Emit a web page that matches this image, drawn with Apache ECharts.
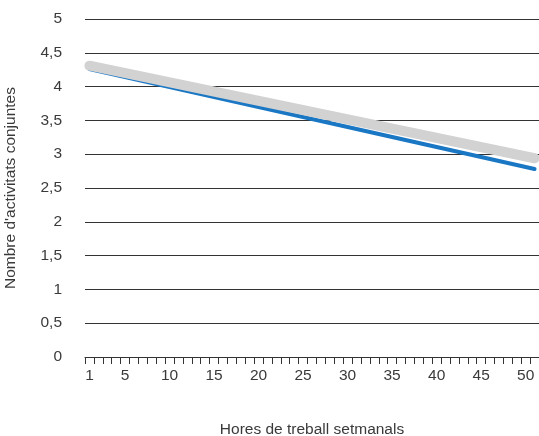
<!DOCTYPE html>
<html><head><meta charset="utf-8">
<script src="https://cdn.jsdelivr.net/npm/echarts@6/dist/echarts.min.js"></script>
<style>html,body{margin:0;padding:0;background:#fff}#c{width:539px;height:436px}</style>
</head><body><div id="c"></div>
<script>
var hours = []; for (var h = 1; h <= 51; h++) hours.push(String(h));
var labelHours = ['1','5','10','15','20','25','30','35','40','45','50'];
var blueStart = 4.26, blueEnd = 2.78;
var grayStart = 4.31, grayEnd = 2.94;
function ends(a, b){ var d = hours.map(function(){return null;}); d[0]=a; d[d.length-1]=b; return d; }
var chart = echarts.init(document.getElementById('c'));
var font = 'Liberation Sans, Arial, sans-serif';
var txt = '#3a3a3a';
chart.setOption({
  animation: false,
  grid: {left: 85, right: 0, top: 19, bottom: 79, containLabel: false, outerBoundsMode: 'none'},
  xAxis: {
    type: 'category', data: hours, boundaryGap: true,
    name: 'Hores de treball setmanals', nameLocation: 'middle', nameGap: 65,
    nameTextStyle: {color: txt, fontSize: 15.5, fontFamily: font},
    axisLine: {show: true, lineStyle: {color: '#333', width: 1}},
    axisTick: {show: true, interval: 0, length: 7, lineStyle: {color: '#333', width: 1}},
    axisLabel: {show: true, interval: function(i, v){ return labelHours.indexOf(v) >= 0; }, color: txt, fontSize: 15.5, fontFamily: font, margin: 11}
  },
  yAxis: {
    type: 'value', min: 0, max: 5, interval: 0.5,
    name: "Nombre d'activitats conjuntes", nameLocation: 'middle', nameGap: 66,
    nameTextStyle: {color: txt, fontSize: 15.5, fontFamily: font},
    axisLine: {show: false}, axisTick: {show: false},
    axisLabel: {color: txt, fontSize: 15.5, fontFamily: font, margin: 23,
      formatter: function(v){ return String(v).replace('.', ','); }},
    splitLine: {lineStyle: {color: '#333', width: 1}}
  },
  series: [
    {type: 'line', data: ends(blueStart, blueEnd), connectNulls: true, symbol: 'none',
      lineStyle: {color: '#1a77c4', width: 4, cap: 'round'}, z: 2},
    {type: 'line', data: ends(grayStart, grayEnd), connectNulls: true, symbol: 'none',
      lineStyle: {color: '#d2d2d2', width: 10, cap: 'round'}, z: 3}
  ]
});
</script></body></html>
